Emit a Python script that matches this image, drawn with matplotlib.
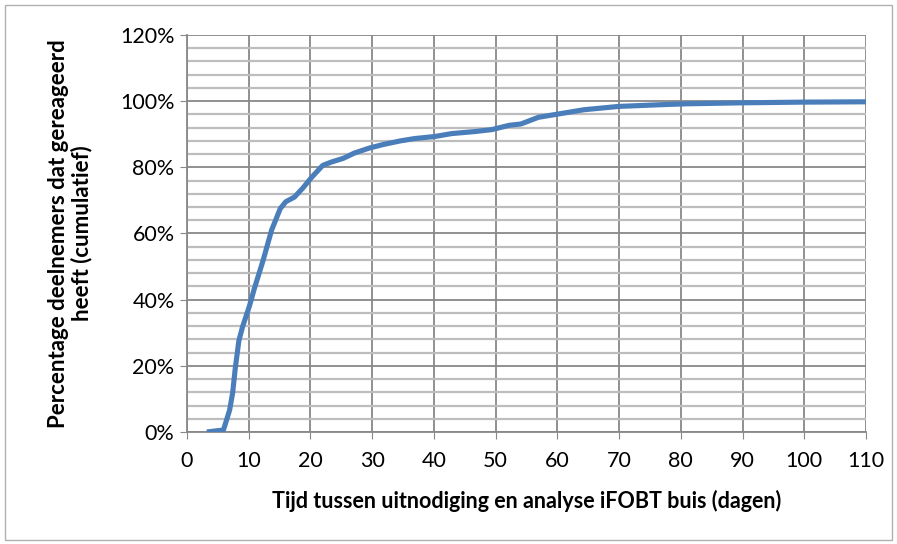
import matplotlib
matplotlib.use("Agg")
import matplotlib.pyplot as plt
from matplotlib.ticker import MultipleLocator, FuncFormatter
from matplotlib.patches import Rectangle

# dagen na uitnodiging en cumulatief percentage respons
dagen = [3.2, 5.9, 6.9, 7.4, 7.8, 8.4, 9.0, 10.1, 10.9, 12.3, 13.7, 15.1, 16.0,
         17.4, 18.8, 20.2, 22.0, 23.4, 25.3, 27.1, 29.5, 31.8, 34.6, 36.9, 40.1,
         42.9, 46.6, 49.4, 52.2, 54.1, 56.9, 60.1, 64.3, 69.9, 76.4, 81.0, 90.3,
         99.6, 110.0]
percentage = [0.0, 0.6, 6.6, 11.9, 19.0, 27.6, 31.8, 38.0, 43.3, 51.7, 61.0, 67.5,
              69.6, 71.0, 73.8, 77.0, 80.6, 81.6, 82.7, 84.3, 85.8, 86.9, 88.0,
              88.7, 89.3, 90.2, 90.8, 91.4, 92.7, 93.1, 95.1, 96.1, 97.4, 98.4,
              98.9, 99.2, 99.5, 99.7, 99.8]

plt.rcParams['font.family'] = ['Lato', 'DejaVu Sans']

fig = plt.figure(figsize=(8.97, 5.44), dpi=100)
fig.patches.append(Rectangle((0.006, 0.008), 0.988, 0.982, transform=fig.transFigure,
                             fill=False, edgecolor='#b0b0b0', linewidth=1))
ax = fig.add_axes([0.2085, 0.2059, 0.7569, 0.7298])

ax.plot(dagen, percentage, color='#4a7ebb', linewidth=3.7, solid_capstyle='butt', zorder=3)

ax.set_xlim(0, 110)
ax.set_ylim(0, 120)
ax.xaxis.set_major_locator(MultipleLocator(10))
ax.yaxis.set_major_locator(MultipleLocator(20))
ax.yaxis.set_minor_locator(MultipleLocator(4))
ax.yaxis.set_major_formatter(FuncFormatter(lambda v, p: '%d%%' % v))

ax.grid(which='major', axis='both', color='#888888', linewidth=1.3, zorder=1)
ax.grid(which='minor', axis='y', color='#bdbdbd', linewidth=1.6, zorder=0)

for s in ['top', 'right']:
    ax.spines[s].set_visible(False)
for s in ['left', 'bottom']:
    ax.spines[s].set_color('#888888')
    ax.spines[s].set_linewidth(1.3)

ax.tick_params(axis='both', which='major', length=5, color='#888888', labelsize=15.5, colors='black')
ax.tick_params(axis='y', which='minor', length=0)
ax.tick_params(axis='x', pad=9)
ax.tick_params(axis='y', pad=4)

ax.set_xlabel('Tijd tussen uitnodiging en analyse iFOBT buis (dagen)', fontsize=15.5,
              fontweight='bold', labelpad=13)
ax.set_ylabel('Percentage deelnemers dat gereageerd\nheeft (cumulatief)', fontsize=16,
              fontweight='bold', labelpad=20, linespacing=1.1)

fig.savefig('out.png', dpi=100)
